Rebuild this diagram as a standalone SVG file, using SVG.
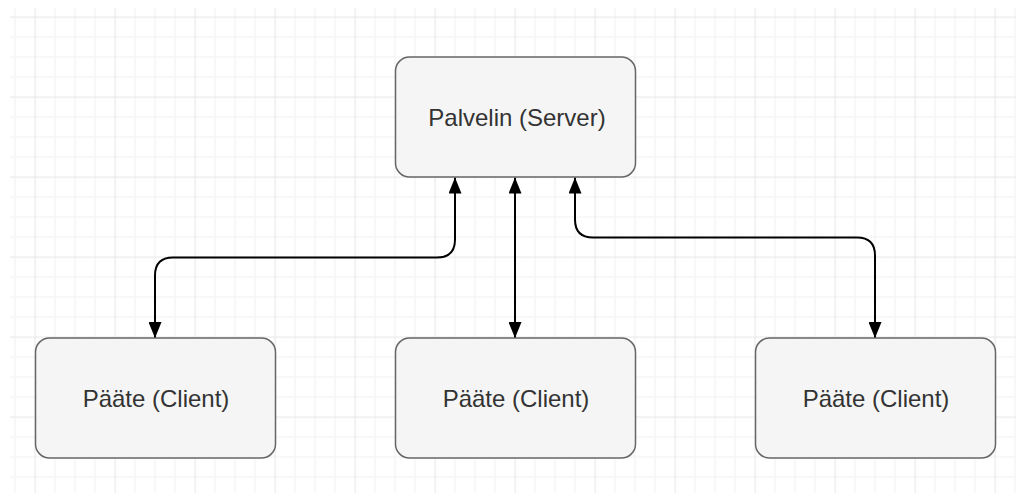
<svg xmlns="http://www.w3.org/2000/svg" width="1016" height="493" viewBox="0 0 1016 493">
  <defs>
    <!-- 20px minor grid, 80px major grid -->
    <pattern id="grid" patternUnits="userSpaceOnUse" x="34.5" y="16.5" width="80" height="80">
      <path d="M20.5,0 V80 M40.5,0 V80 M60.5,0 V80 M0,20.5 H80 M0,40.5 H80 M0,60.5 H80" stroke="#f4f4f4" stroke-width="1.5" fill="none"/>
      <path d="M0.5,0 V80 M0,0.5 H80" stroke="#e9e9e9" stroke-width="1.5" fill="none"/>
    </pattern>
    <marker id="arrow" viewBox="0 0 16 13" refX="16" refY="6.5" markerWidth="16" markerHeight="13" markerUnits="userSpaceOnUse" orient="auto-start-reverse">
      <path d="M0,0 L16,6.5 L0,13 Z" fill="#000"/>
    </marker>
  </defs>
  <style>
    .box { fill: #f5f5f5; stroke: #666666; stroke-width: 1.5; }
    .label { font-family: "Liberation Sans", Arial, sans-serif; font-size: 24px; fill: #333333; text-anchor: middle; }
    .edge { fill: none; stroke: #000; stroke-width: 2; marker-start: url(#arrow); marker-end: url(#arrow); }
  </style>

  <rect width="1016" height="493" fill="#ffffff"/>
  <rect x="10" y="8" width="1006" height="485" fill="url(#grid)"/>

  <g id="connectors">
    <path class="edge" d="M455,177.5 V239.5 Q455,257.5 437,257.5 H173 Q155,257.5 155,275.5 V338"/>
    <path class="edge" d="M515,177.5 V338"/>
    <path class="edge" d="M575,177.5 V219.5 Q575,237.5 593,237.5 H857 Q875,237.5 875,255.5 V338"/>
  </g>

  <g id="server">
    <rect class="box" x="395.5" y="57" width="240" height="120" rx="14"/>
    <text class="label" x="517" y="126">Palvelin (Server)</text>
  </g>
  <g id="client-1">
    <rect class="box" x="35.5" y="338" width="240" height="120" rx="14"/>
    <text class="label" x="156" y="407">Pääte (Client)</text>
  </g>
  <g id="client-2">
    <rect class="box" x="395.5" y="338" width="240" height="120" rx="14"/>
    <text class="label" x="516" y="407">Pääte (Client)</text>
  </g>
  <g id="client-3">
    <rect class="box" x="755.5" y="338" width="240" height="120" rx="14"/>
    <text class="label" x="876" y="407">Pääte (Client)</text>
  </g>
</svg>
